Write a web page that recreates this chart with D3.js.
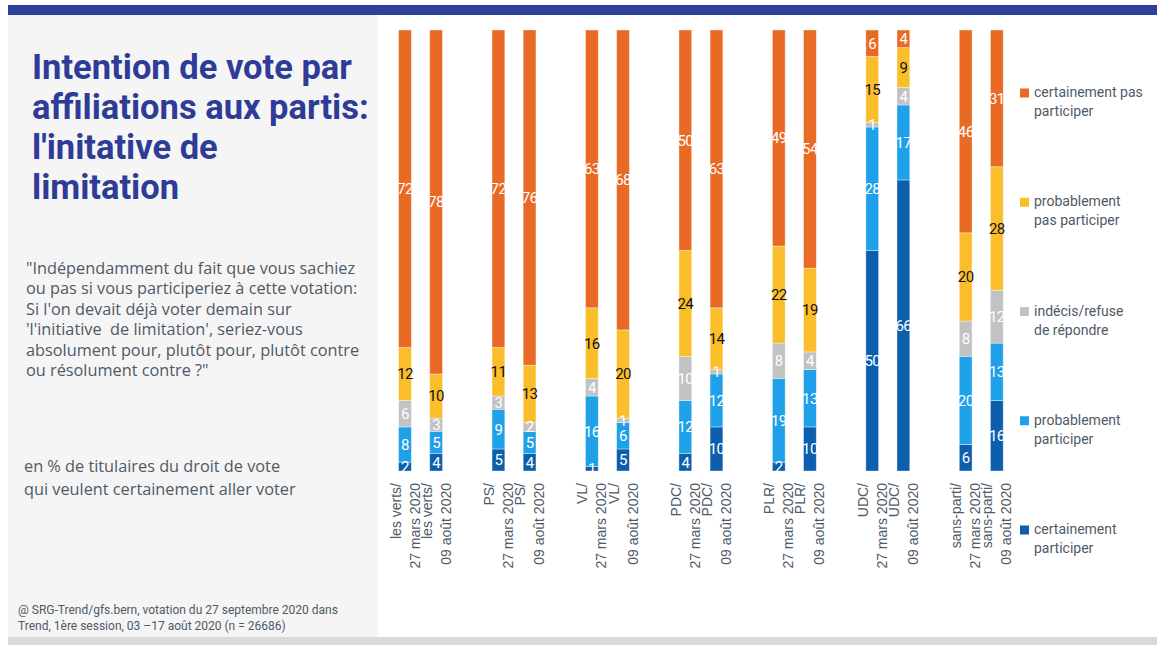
<!DOCTYPE html>
<html>
<head>
<meta charset="utf-8">
<script src="https://cdn.jsdelivr.net/npm/d3@7"></script>
<style>
  body { margin: 0; background: #fff; }
  svg { display: block; font-family: Roboto, "Noto Sans", sans-serif; }
</style>
</head>
<body>
<div id="chart"></div>
<script>
// data
const parties = ["les verts", "PS", "VL", "PDC", "PLR", "UDC", "sans-parti"];
const dates = ["27 mars 2020", "09 août 2020"];
const series = ["certainement participer", "probablement participer", "indécis/refuse de répondre", "probablement pas participer", "certainement pas participer"];
const legendLines = [["certainement", "participer"], ["probablement", "participer"], ["indécis/refuse", "de répondre"], ["probablement", "pas participer"], ["certainement pas", "participer"]];
// one value per bar: party by party, mars then août
const certainementParticiper = [2, 4, 5, 4, 1, 5, 4, 10, 2, 10, 50, 66, 6, 16];
const probablementParticiper = [8, 5, 9, 5, 16, 6, 12, 12, 19, 13, 28, 17, 20, 13];
const indecis = [6, 3, 3, 2, 4, 1, 10, 1, 8, 4, 1, 4, 8, 12];
const probablementPas = [12, 10, 11, 13, 16, 20, 24, 14, 22, 19, 15, 9, 20, 28];
const certainementPas = [72, 78, 72, 76, 63, 68, 50, 63, 49, 54, 6, 4, 46, 31];

const title = ["Intention de vote par", "affiliations aux partis:", "l'initative de", "limitation"];
const question = ["\"Indépendamment du fait que vous sachiez", "ou pas si vous participeriez à cette votation:", "Si l'on devait déjà voter demain sur", "'l'initiative  de limitation', seriez-vous", "absolument pour, plutôt pour, plutôt contre", "ou résolument contre ?\""];
const base = ["en % de titulaires du droit de vote", "qui veulent certainement aller voter"];
const source = ["@ SRG-Trend/gfs.bern, votation du 27 septembre 2020 dans", "Trend, 1ère session, 03 \u201317 août 2020 (n = 26686)"];

const width = 1157, height = 645;
const textGrey = "#4e5a66";
const colors = ["#0d5fae", "#1ea1e9", "#c2c2c2", "#fbbe2b", "#e96a24"];

const values = [certainementParticiper, probablementParticiper, indecis, probablementPas, certainementPas];
const rows = [];
parties.forEach((p, i) => {
  dates.forEach((d, j) => {
    const row = { party: p, date: d };
    series.forEach((s, k) => { row[s] = values[k][i * 2 + j]; });
    rows.push(row);
  });
});

const svg = d3.select("#chart").append("svg")
  .attr("width", width)
  .attr("height", height);

svg.append("rect").attr("width", width).attr("height", height).attr("fill", "#fff");
svg.append("rect").attr("x", 8).attr("y", 15).attr("width", 370).attr("height", 622).attr("fill", "#f5f5f5");
svg.append("rect").attr("x", 8).attr("y", 5).attr("width", width - 8).attr("height", 10).attr("fill", "#303f9c");
svg.append("rect").attr("x", 8).attr("y", 637).attr("width", width - 8).attr("height", 8).attr("fill", "#dadada");

// left panel texts
svg.append("g").selectAll("text").data(title).join("text")
  .attr("x", 32)
  .attr("y", (d, i) => 78.5 + i * 40.2)
  .attr("fill", "#2e3c98")
  .attr("font-size", 34.5)
  .attr("font-weight", "bold")
  .text(d => d);

svg.append("g").selectAll("text").data(question).join("text")
  .attr("x", 26)
  .attr("y", (d, i) => 273.5 + i * 20.5)
  .attr("fill", textGrey)
  .attr("font-family", "'Open Sans', sans-serif")
  .attr("font-size", 16.3)
  .style("white-space", "pre")
  .text(d => d);

svg.append("g").selectAll("text").data(base).join("text")
  .attr("x", 24)
  .attr("y", (d, i) => 472 + i * 23)
  .attr("fill", textGrey)
  .attr("font-family", "'Open Sans', sans-serif")
  .attr("font-size", 16.3)
  .text(d => d);

svg.append("g").selectAll("text").data(source).join("text")
  .attr("x", 18)
  .attr("y", (d, i) => 614 + i * 16)
  .attr("fill", textGrey)
  .attr("font-size", 12)
  .text(d => d);

// scales
const x0 = d3.scaleBand().domain(parties).range([389.4, 389.4 + 7 * 93.45]).padding(0);
const x1 = d3.scaleBand().domain(dates).range([0, 62.3]).paddingInner(0.59).paddingOuter(0.295);
const y = d3.scaleLinear().domain([0, 100]).range([471, 30]);
const color = d3.scaleOrdinal().domain(series).range(colors);

const stacked = d3.stack().keys(series)(rows);

const layer = svg.append("g").selectAll("g").data(stacked).join("g")
  .attr("fill", d => color(d.key));

layer.selectAll("rect").data(d => d).join("rect")
  .attr("x", d => x0(d.data.party) + x1(d.data.date))
  .attr("y", d => y(d[1]))
  .attr("width", x1.bandwidth())
  .attr("height", d => y(d[0]) - y(d[1]))
  .attr("stroke", "rgba(255,255,255,0.45)")
  .attr("stroke-width", 0.8);

const labels = svg.append("g").selectAll("g").data(stacked).join("g")
  .attr("fill", d => d.key === "probablement pas participer" ? "#111" : "#fff");

labels.selectAll("text").data(d => d.filter(v => v[1] - v[0] > 0)).join("text")
  .attr("x", d => x0(d.data.party) + x1(d.data.date) + x1.bandwidth() / 2)
  .attr("y", d => (y(d[0]) + y(d[1])) / 2)
  .attr("dy", "0.36em")
  .attr("text-anchor", "middle")
  .attr("font-size", 15)
  .attr("letter-spacing", -0.6)
  .text(d => d[1] - d[0]);

// x axis: one small axis per party, two lines per tick
parties.forEach(p => {
  const ax = svg.append("g")
    .attr("transform", `translate(${x0(p)},${y(0)})`)
    .call(d3.axisBottom(x1).tickSize(0));
  ax.select(".domain").remove();
  ax.selectAll(".tick text").remove();
  ax.selectAll(".tick").append("text")
    .attr("transform", "rotate(-90)")
    .attr("x", -12)
    .attr("text-anchor", "end")
    .attr("fill", textGrey)
    .attr("font-size", 14)
    .selectAll("tspan").data(d => [p + "/", d]).join("tspan")
    .attr("x", -12)
    .attr("y", (d, i) => (i === 0 ? -9.5 : 9.5))
    .attr("dy", "0.36em")
    .text(d => d);
});

// legend, top to bottom
const ly = d3.scalePoint().domain(series.slice().reverse()).range([92, 529]);
const legend = svg.append("g").selectAll("g").data(series).join("g")
  .attr("transform", s => `translate(1020,${ly(s)})`);

legend.append("rect")
  .attr("y", -3.5)
  .attr("width", 9)
  .attr("height", 9)
  .attr("fill", s => color(s));

legend.append("text")
  .attr("fill", textGrey)
  .attr("font-size", 14)
  .selectAll("tspan").data((s, i) => legendLines[i]).join("tspan")
  .attr("x", 14)
  .attr("y", (d, i) => 5 + i * 19)
  .text(d => d);
</script>
</body>
</html>
